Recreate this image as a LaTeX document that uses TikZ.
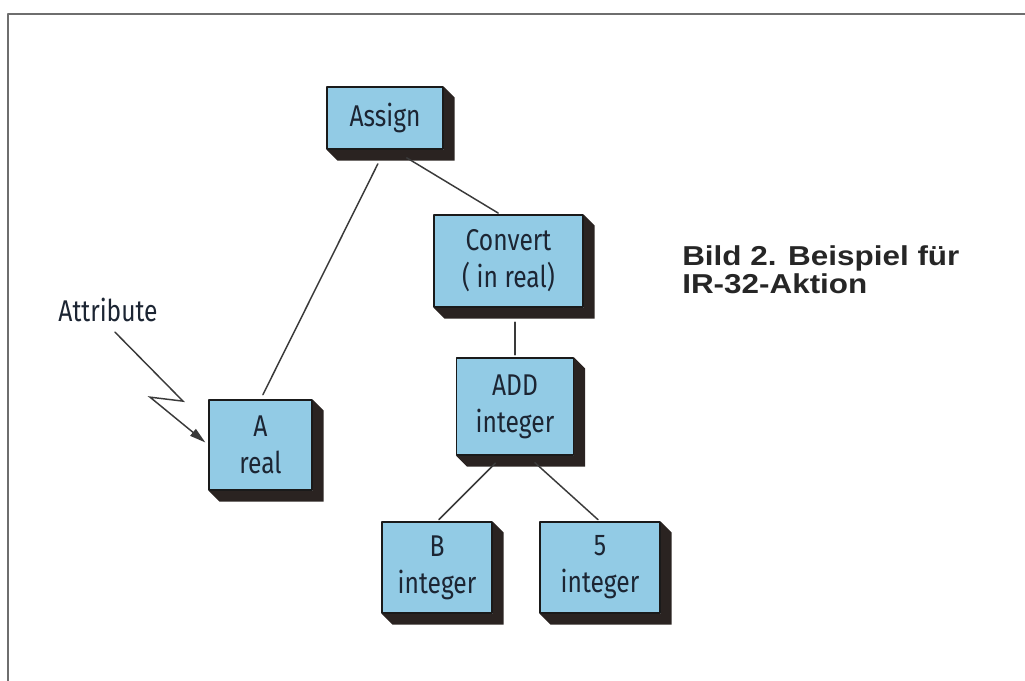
\documentclass[tikz,border=0pt]{standalone}
\usepackage{fontspec}
\usepackage{tikz}
\usetikzlibrary{arrows.meta,calc,backgrounds}
\newfontfamily\irfont{Fira Sans}[FakeStretch=0.82]
\newfontfamily\capfont{Liberation Sans}[FakeStretch=1.15]
\definecolor{irblue}{HTML}{92CBE5}
\definecolor{irshade}{HTML}{2A2321}
\definecolor{irline}{HTML}{1A1A1A}
\definecolor{irtext}{HTML}{1C2533}
\definecolor{irlink}{HTML}{3A3A3A}
\definecolor{irframe}{HTML}{6E6E6E}
\tikzset{
every picture/.style={line cap=round,line join=round},
ir box/.style={
  draw=irline,
  fill=irblue,
  line width=0.8pt,
  inner sep=0pt,
  align=center,
  text=irtext,
  font=\irfont\fontsize{22.5pt}{27.75pt}\selectfont
},
box shade/.style={fill=irshade},
ir link/.style={draw=irlink, line width=1.1pt},
ir pointer/.style={
  draw=irlink,
  line width=1.1pt,
  line join=miter,
  -{Triangle[length=12pt,width=6.5pt]}
},
ir label/.style={text=irtext, inner sep=0pt, font=\irfont\fontsize{22.5pt}{27.75pt}\selectfont},
ir caption/.style={text=black!85, inner sep=0pt, align=left,
  font=\capfont\bfseries\fontsize{20.5pt}{21pt}\selectfont},
frame line/.style={draw=irframe, line width=1.5pt, line cap=butt}
}
% shadow of a box, drawn as the extruded side faces
\newcommand\irshadow[1]{%
  \fill[box shade] (#1.north east) -- ++(8.25pt,-8.25pt)
    -- ($(#1.south east)+(8.25pt,-8.25pt)$)
    -- ($(#1.south west)+(8.25pt,-8.25pt)$)
    -- (#1.south west) -- (#1.south east) -- cycle;}

\begin{document}
\begin{tikzpicture}[x=0.75pt,y=-0.75pt]
\useasboundingbox (0,0) rectangle (1025,681);
\draw[frame line] (8,681) -- (8,14) -- (1025,14);

% tree of the IR-32 action
\node[ir box, minimum width=87pt, minimum height=46.5pt] (assign) at (385,118) {Assign};
\node[ir box, minimum width=111.75pt, minimum height=69pt] (convert) at (508.5,261) {Convert\\( in real)};
\node[ir box, minimum width=77.25pt, minimum height=67.5pt] (A) at (260.5,445) {A\\real};
\node[ir box, minimum width=87.75pt, minimum height=72.75pt] (add) at (515,406.5) {ADD\\integer};
\node[ir box, minimum width=82.5pt, minimum height=68.25pt] (B) at (437,567.5) {B\\integer};
\node[ir box, minimum width=90pt, minimum height=68.25pt] (five) at (600,567.5) {5\\integer};
\begin{scope}[on background layer]
\foreach \n in {assign,convert,A,add,B,five} {\irshadow{\n}}
\end{scope}

% connectors
\draw[ir link, shorten <=12pt, shorten >=4pt] (assign.south) -- (A.north);
\draw[ir link, shorten <=12pt, shorten >=2pt] ($(assign.south)+(8,0)$) -- ($(convert.north)+(-8,0)$);
\draw[ir link, shorten <=11pt, shorten >=2pt] (convert.south -| add.north) -- (add.north);
\draw[ir link, shorten <=8pt, shorten >=2pt] ($(add.south)+(-12,0)$) -- (B.north);
\draw[ir link, shorten <=8pt, shorten >=2pt] ($(add.south)+(12,0)$) -- (five.north);

% attribute pointer
\node[ir label] (attr) at (108,310) {Attribute};
\draw[ir pointer, shorten >=3pt] ($(attr.south)+(7,10)$) -- ++(68,69) -- ++(-33,-4) -- (A.west);

\node[ir caption, anchor=north west] (caption) at (682,245) {Bild 2. Beispiel für\\IR-32-Aktion};
\end{tikzpicture}
\end{document}
